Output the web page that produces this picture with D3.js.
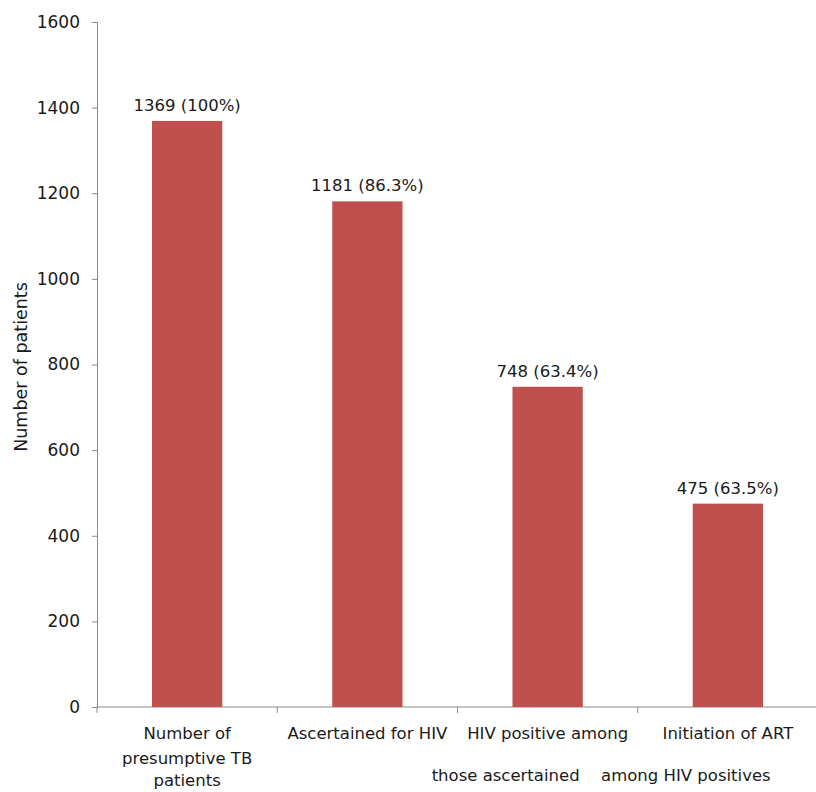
<!DOCTYPE html>
<html><head><meta charset="utf-8">
<script src="https://cdn.jsdelivr.net/npm/d3@7"></script>
<style>body{margin:0;background:#fff}svg{display:block}text{font-family:"DejaVu Sans",sans-serif;fill:#1a1a1a}</style>
</head><body>
<svg id="c" width="816" height="792"></svg>
<script>
const categories = ["Number of presumptive TB patients","Ascertained for HIV","HIV positive among those ascertained","Initiation of ART among HIV positives"];
const catLines = [["Number of","presumptive TB","patients"],["Ascertained for HIV"],["HIV positive among","those ascertained"],["Initiation of ART","among HIV positives"]];
const values = [1369, 1181, 748, 475];
const valueLabels = ["1369 (100%)","1181 (86.3%)","748 (63.4%)","475 (63.5%)"];
const yTicks = [0,200,400,600,800,1000,1200,1400,1600];

const svg = d3.select("#c");
const x = d3.scaleBand().domain(categories).range([97, 818]).paddingInner(0.61).paddingOuter(0.305);
const xb = d3.scaleBand().domain(categories).range([97, 818]);
const y = d3.scaleLinear().domain([0,1600]).range([707, 22]);

// y axis
const ya = svg.append("g").attr("transform","translate(97,0)")
  .call(d3.axisLeft(y).tickValues(yTicks).tickSize(5).tickPadding(12).tickFormat(d3.format("d")));
ya.select(".domain").attr("stroke","#8a8a8a");
ya.selectAll(".tick line").attr("stroke","#8a8a8a");
ya.selectAll(".tick text").attr("font-size","17px").attr("fill","#1a1a1a").style("font-family","DejaVu Sans");

// x axis line + ticks at boundaries
svg.append("line").attr("x1",97).attr("x2",818).attr("y1",y(0)).attr("y2",y(0)).attr("stroke","#8a8a8a");
const bounds = categories.map(c=>xb(c)).concat([xb(categories[3])+xb.bandwidth()]);
svg.selectAll(".xt").data(bounds).join("line").attr("x1",d=>d).attr("x2",d=>d)
  .attr("y1",y(0)).attr("y2",y(0)+6).attr("stroke","#8a8a8a");

// bars
svg.selectAll(".bar").data(values).join("rect")
  .attr("x",(d,i)=>x(categories[i])).attr("width",x.bandwidth())
  .attr("y",d=>y(d)).attr("height",d=>y(0)-y(d)).attr("fill","#C0504D");

// value labels
svg.selectAll(".vl").data(values).join("text")
  .attr("x",(d,i)=>x(categories[i])+x.bandwidth()/2).attr("y",d=>y(d)-10)
  .attr("text-anchor","middle").attr("font-size","16.5px").text((d,i)=>valueLabels[i]);

// category labels
const lineY = [[739,764,786],[739],[739,781],[739,781]];
const lineDx = [[0,0,0],[0],[0,-42],[0,-42]];
catLines.forEach((lines,i)=>{
  const cx = xb(categories[i]) + xb.bandwidth()/2;
  lines.forEach((t,j)=>{
    svg.append("text").attr("x",cx+lineDx[i][j]).attr("y",lineY[i][j])
      .attr("text-anchor","middle").attr("font-size","16.5px").text(t);
  });
});

// y title
svg.append("text").attr("transform","translate(27,367) rotate(-90)")
  .attr("text-anchor","middle").attr("font-size","17.5px").text("Number of patients");
</script>
</body></html>
